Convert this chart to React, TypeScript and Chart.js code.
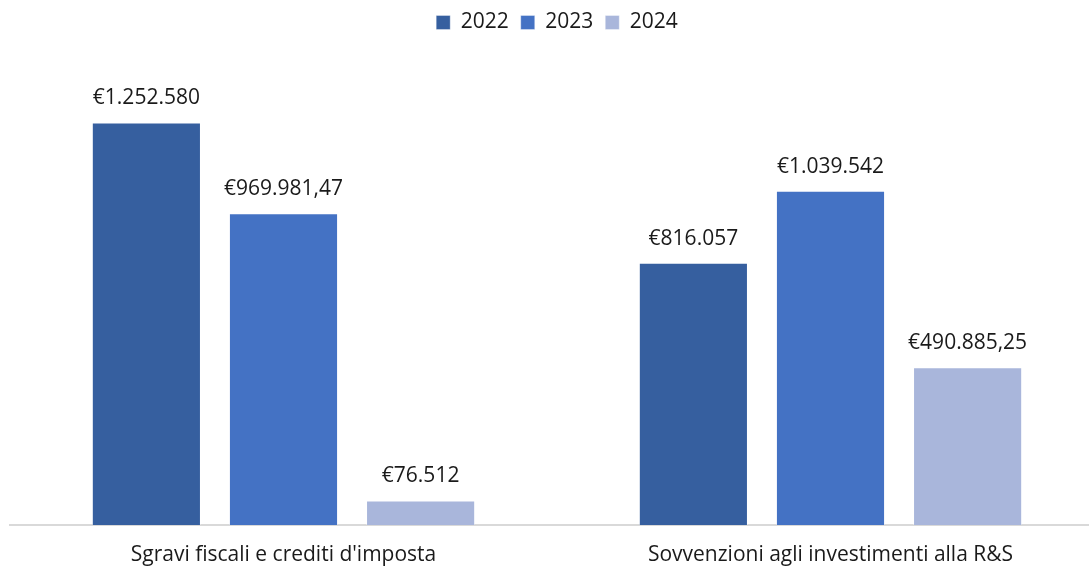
import React, { useEffect, useRef } from "react";
import { Chart, registerables } from "chart.js";

Chart.register(...registerables);

const categories = ["Sgravi fiscali e crediti d'imposta", "Sovvenzioni agli investimenti alla R&S"];
const years = ["2022", "2023", "2024"];
const values2022 = [1252580, 816057];
const values2023 = [969981.47, 1039542];
const values2024 = [76512, 490885.25];
const colors = ["#365F9F", "#4472C4", "#A9B6DB"];

const FONT = "'Open Sans', sans-serif";
const FS = 21;

function formatEuro(v: number): string {
  const intPart = Math.floor(v);
  const dec = Math.round((v - intPart) * 100);
  const s = String(intPart).replace(/\B(?=(\d{3})+(?!\d))/g, ".");
  return "€" + s + (dec > 0 ? "," + String(dec).padStart(2, "0") : "");
}

const labelPlugin = {
  id: "barLabels",
  afterDatasetsDraw(chart: any) {
    const ctx = chart.ctx;
    ctx.save();
    ctx.font = `${FS}px ${FONT}`;
    ctx.fillStyle = "#1a1a1a";
    ctx.textAlign = "center";
    ctx.textBaseline = "middle";
    chart.data.datasets.forEach((ds: any, i: number) => {
      const meta = chart.getDatasetMeta(i);
      meta.data.forEach((bar: any, j: number) => {
        ctx.fillText(formatEuro(ds.data[j]), bar.x, bar.y - 24);
      });
    });
    ctx.restore();
  },
};

const legendMargin = {
  id: "legendMargin",
  beforeInit(chart: any) {
    const orig = chart.legend.fit;
    chart.legend.fit = function () {
      orig.bind(chart.legend)();
      this.height += 32;
    };
  },
};

export default function App() {
  const ref = useRef<HTMLCanvasElement>(null);
  useEffect(() => {
    document.body.style.margin = "0";
    document.body.style.overflow = "hidden";
    const chart = new Chart(ref.current!, {
      type: "bar",
      data: {
        labels: categories,
        datasets: [values2022, values2023, values2024].map((d, i) => ({
          label: years[i],
          data: d,
          backgroundColor: colors[i],
          borderColor: "rgba(255,255,255,0.35)",
          borderWidth: 1,
          categoryPercentage: 0.752,
          barPercentage: 0.796,
        })),
      },
      options: {
        animation: false,
        responsive: false,
        layout: { padding: { left: 10, right: 0, top: 0, bottom: 0 } },
        plugins: {
          legend: {
            position: "top",
            labels: {
              boxWidth: 14,
              boxHeight: 14,
              padding: 12,
              color: "#1a1a1a",
              font: { family: FONT, size: FS },
            },
          },
          tooltip: { enabled: false },
        },
        scales: {
          x: {
            grid: { display: false, drawTicks: false },
            border: { display: true, color: "#d9d9d9", width: 2 },
            ticks: { color: "#1a1a1a", font: { family: FONT, size: FS }, padding: 17, maxRotation: 0 },
            afterFit: (scale: any) => {
              scale.height = 42;
            },
          },
          y: {
            display: false,
            min: 0,
            max: 1400000,
          },
        },
      },
      plugins: [labelPlugin, legendMargin],
    });
    return () => chart.destroy();
  }, []);
  return (
    <div style={{ position: "absolute", left: 0, top: 0, width: 1089, height: 567, overflow: "hidden" }}>
      <canvas ref={ref} width={1104} height={567} style={{ display: "block" }} />
    </div>
  );
}
